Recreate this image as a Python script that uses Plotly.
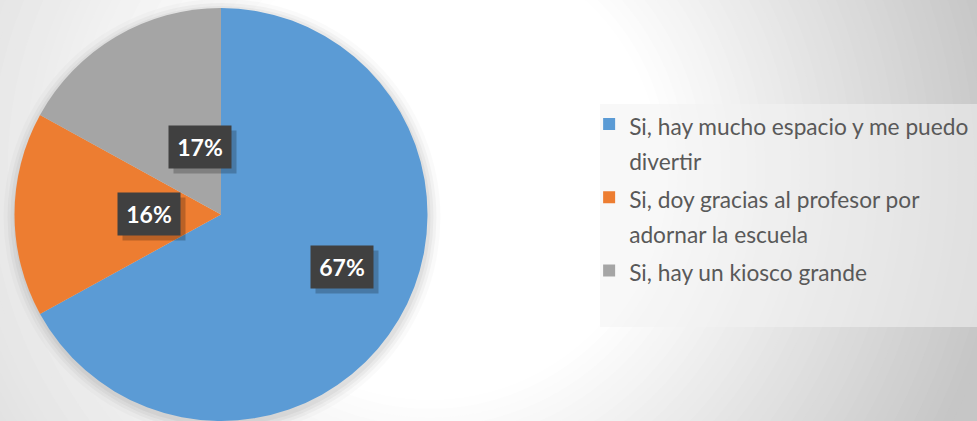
import math
import plotly.graph_objects as go

# ---- data ----
categories = [
    "Si, hay mucho espacio y me puedo<br>divertir",
    "Si, doy gracias al profesor por<br>adornar la escuela",
    "Si, hay un kiosco grande",
]
values = [67, 16, 17]
colors = ["#5b9bd5", "#ed7d31", "#a5a5a5"]

W, H = 977, 421
dom_x = [0.0148, 0.4376]
dom_y = [0.0, 0.981]

legend_labels = [
    "<br>".join(f"<span style='font-size:22.7px'>{part}</span>" for part in c.split("<br>"))
    for c in categories
]

fig = go.Figure()
fig.add_trace(go.Pie(
    labels=legend_labels,
    values=values,
    sort=False,
    direction="clockwise",
    rotation=0,
    marker=dict(colors=colors, line=dict(width=0)),
    textinfo="none",
    hoverinfo="label+percent",
    domain=dict(x=dom_x, y=dom_y),
    showlegend=True,
))

shapes = []
# radial background gradient (concentric circles, pixel-based)
gcx, gcy = 430, 170
r_in, r_out = 230, 580
c_in, c_out = 255, 198
N = 40
for i in range(N + 1):
    r = r_out - (r_out - r_in) * i / N
    t = i / N
    c = round(c_out + (c_in - c_out) * t)
    shapes.append(dict(
        type="circle", xref="paper", yref="paper", layer="below",
        x0=(gcx - r) / W, x1=(gcx + r) / W,
        y0=1 - (gcy + r) / H, y1=1 - (gcy - r) / H,
        fillcolor=f"rgb({c},{c},{c})", line=dict(width=0),
    ))
# lighten left side a bit
shapes.append(dict(
    type="rect", xref="paper", yref="paper", layer="below",
    x0=0, x1=230 / W, y0=0, y1=1,
    fillcolor="rgba(255,255,255,0.35)", line=dict(width=0),
))

# soft pie shadow
size_px = min((dom_x[1] - dom_x[0]) * W, (dom_y[1] - dom_y[0]) * H)
R = size_px / 2
pcx = (dom_x[0] + dom_x[1]) / 2 * W
pcy = (1 - (dom_y[0] + dom_y[1]) / 2) * H
for k, a in [(12, 0.02), (8, 0.03), (5, 0.035), (2, 0.04)]:
    shapes.append(dict(
        type="circle", xref="paper", yref="paper", layer="below",
        x0=(pcx - R - k + 1) / W, x1=(pcx + R + k + 1) / W,
        y0=1 - (pcy + R + k + 3) / H, y1=1 - (pcy - R - k + 3) / H,
        fillcolor=f"rgba(0,0,0,{a})", line=dict(width=0),
    ))

# legend panel
shapes.append(dict(
    type="rect", xref="paper", yref="paper", layer="below",
    x0=600 / W, x1=1.0, y0=1 - 327 / H, y1=1 - 104 / H,
    fillcolor="rgba(242,242,242,0.55)", line=dict(width=0),
))

# data labels at slice mid-angles
annotations = []
total = sum(values)
cum = 0
for v in values:
    mid = (cum + v / 2) / total * 2 * math.pi
    cum += v
    lx = pcx + 0.503 * R * math.sin(mid)
    ly = pcy - 0.503 * R * math.cos(mid)
    txt = f"{v / total * 100:.0f}%"
    annotations.append(dict(
        x=lx / W, y=1 - ly / H, xref="paper", yref="paper",
        text="", showarrow=False, width=48, height=28, borderpad=7,
        bgcolor="rgba(0,0,0,0.22)", xshift=5, yshift=-5,
    ))
    annotations.append(dict(
        x=lx / W, y=1 - ly / H, xref="paper", yref="paper",
        text=f"<b>{txt}</b>", showarrow=False, width=48, height=28, borderpad=7,
        bgcolor="#404040",
        font=dict(family="Lato", size=23, color="white"),
    ))

fig.update_layout(
    width=W, height=H,
    margin=dict(l=0, r=0, t=0, b=0),
    paper_bgcolor=f"rgb({c_out},{c_out},{c_out})",
    plot_bgcolor="rgba(0,0,0,0)",
    shapes=shapes,
    annotations=annotations,
    legend=dict(
        x=0.603, y=1 - 100 / H, xanchor="left", yanchor="top",
        bgcolor="rgba(0,0,0,0)", borderwidth=0,
        font=dict(family="Lato", size=27, color="#595959"),
        valign="top", traceorder="normal",
    ),
)

fig.write_html("out.html", config={"displayModeBar": False},
               post_script="document.body.style.margin='0';")
